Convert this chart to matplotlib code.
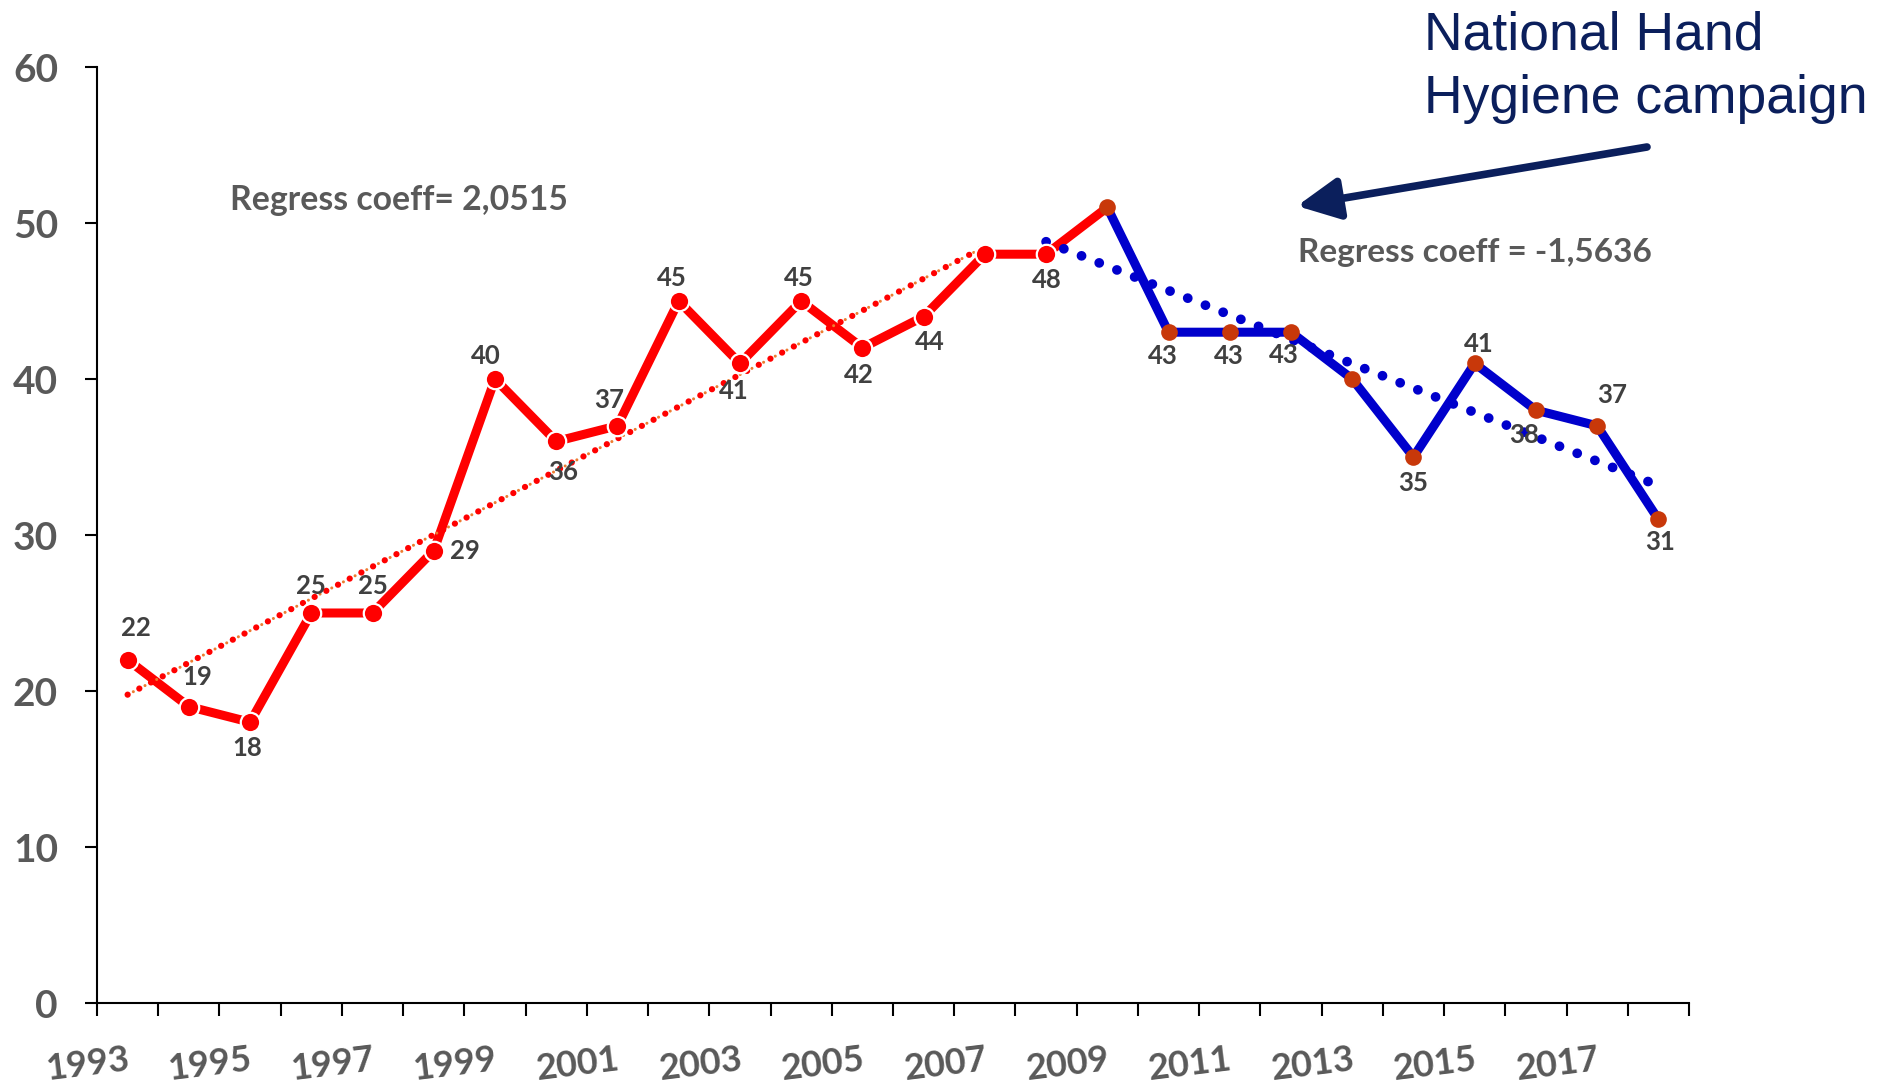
import numpy as np
import matplotlib
matplotlib.use("Agg")
import matplotlib.pyplot as plt

# hospital infection rate per year
years = list(range(1993, 2019))
rates = [22, 19, 18, 25, 25, 29, 40, 36, 37, 45, 41, 45, 42, 44,
         48, 48, 51, 43, 43, 43, 40, 35, 41, 38, 37, 31]
campaign_year = 2009
pre_coeff_text = "Regress coeff= 2,0515"
post_coeff_text = "Regress coeff = -1,5636"
campaign_text = ["National Hand", "Hygiene campaign"]

# label offsets in points (None = no label shown)
label_offsets = [(5.8, 23), (5.8, 21.6), (-2, -18.7), (0, 19.4), (0, 19.4), (22.3, 0),
                 (-6.8, 16.6), (5, -22.3), (-6.1, 18.7), (-4.8, 16.2), (-4.3, -20.2),
                 (-1.4, 16.2), (-2.6, -19.8), (4.5, -18), None, (0.7, -18.7), None,
                 (-4.3, -17.3), (-0.7, -17.3), (-5, -16.6), None, (0, -18.7),
                 (2.9, 13.7), (-8.6, -18), (10.8, 22.3), (1.4, -16.6)]

plt.rcParams['font.family'] = ['Lato', 'DejaVu Sans']

W, H = 1898, 1088
fig = plt.figure(figsize=(W / 100, H / 100), dpi=100)
ax = fig.add_axes([97 / W, 1 - 1003 / H, (1689 - 97) / W, (1003 - 67) / H])

x = np.arange(len(years))
y = np.array(rates)
k = years.index(campaign_year)

# data lines
ax.plot(x[:k + 1], y[:k + 1], color='#FF0000', lw=6.5, solid_joinstyle='miter', zorder=2)
ax.plot(x[k:], y[k:], color='#0000CC', lw=6.5, solid_joinstyle='miter', zorder=2)

# trend lines (linear regression on each period)
p1 = np.polyfit(x[:k + 1], y[:k + 1], 1)
t1 = np.linspace(0, 14.1, 50)
ax.plot(t1, np.polyval(p1, t1), color='#ED7D31', lw=2.2, ls=(2.2, (0.01, 4.3)),
        dash_capstyle='round', zorder=3)
ax.plot(t1, np.polyval(p1, t1), color='#FF0000', lw=4.5, ls=(0, (0.01, 2.1)),
        dash_capstyle='round', zorder=3)
p2 = np.polyfit(x[k:], y[k:], 1)
t2 = np.linspace(k - 1, x[-1], 50)
ax.plot(t2, np.polyval(p2, t2), color='#0000CC', lw=7, ls=(0, (0.01, 1.95)),
        dash_capstyle='round', zorder=3)

# markers
ax.plot(x[:k], y[:k], ls='none', marker='o', ms=14, mfc='#FF0000', mec='white',
        mew=1.6, zorder=4)
ax.plot(x[k:], y[k:], ls='none', marker='o', ms=12, mfc='#C8380A', mec='none', zorder=4)

# data labels
for xi, yi, off in zip(x, y, label_offsets):
    if off is None:
        continue
    ax.annotate(str(yi), (xi, yi), xytext=off, textcoords='offset points',
                ha='center', va='center', fontsize=18.5, fontweight='bold',
                color='#404040', zorder=5)

ax.set_xlim(-0.5, len(years) - 0.5)
ax.set_ylim(0, 60)
ax.set_yticks(range(0, 61, 10))
ax.set_xticks(np.arange(-0.5, len(years), 1.0))
ax.set_xticklabels([])
ax.set_xticks(x[::2], minor=True)
ax.set_xticklabels([str(v) for v in years[::2]], minor=True, rotation=7,
                   ha='right', va='top', rotation_mode='anchor')

for s in ['top', 'right']:
    ax.spines[s].set_visible(False)
for s in ['left', 'bottom']:
    ax.spines[s].set_linewidth(1.5)
ax.tick_params(axis='x', which='major', direction='out', length=9.5, width=1.5)
ax.tick_params(axis='x', which='minor', length=0, pad=29, labelsize=26,
               labelcolor='#595959')
ax.tick_params(axis='y', direction='out', length=9, width=1.5, pad=19,
               labelsize=28, labelcolor='#595959')
for lab in ax.get_xticklabels(minor=True) + ax.get_yticklabels():
    lab.set_fontweight('bold')

# annotations
fig.text(230 / W, 1 - 210 / H, pre_coeff_text, fontsize=24.3, fontweight='bold',
         color='#595959', va='baseline')
fig.text(1298 / W, 1 - 262 / H, post_coeff_text, fontsize=24, fontweight='bold',
         color='#595959', va='baseline')
fig.text(1424 / W, 1 - 50 / H, campaign_text[0], fontsize=38.5, color='#0B1F5C',
         family=['Liberation Sans', 'DejaVu Sans'], va='baseline')
fig.text(1424 / W, 1 - 113 / H, campaign_text[1], fontsize=38.5, color='#0B1F5C',
         family=['Liberation Sans', 'DejaVu Sans'], va='baseline')
ax.annotate('', xy=(1297 / W, 1 - 206 / H), xycoords='figure fraction',
            xytext=(1647 / W, 1 - 147 / H), textcoords='figure fraction',
            arrowprops=dict(arrowstyle='-|>,head_length=0.85,head_width=0.42',
                            mutation_scale=30, color='#0B1F5C', lw=5.5,
                            capstyle='round', shrinkA=0, shrinkB=0))

fig.savefig('out.png', dpi=100)
